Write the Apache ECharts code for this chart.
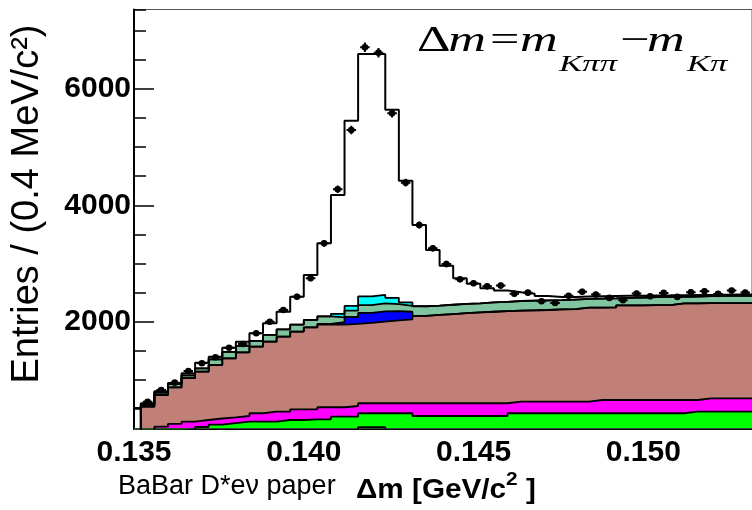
<!DOCTYPE html>
<html>
<head>
  <meta charset="utf-8">
  <title>BaBar D* delta m</title>
  <script src="https://cdn.jsdelivr.net/npm/echarts@6/dist/echarts.min.js"></script>
  <style>
    html, body { margin: 0; padding: 0; background: #fff; }
    #chart { width: 752px; height: 510px; }
  </style>
</head>
<body>
  <div id="chart"></div>

  <script>
    // binning: 0.4 MeV bins, first full bin starts at 0.1352 (0.135-0.1352 is a partial sliver)
    const binStart = 0.1352;
    const binWidth = 0.0004;
    const nBins = 45;
    const xMin = 0.135;
    const partialTotal = 516;

    // data points (entries per bin)
    const dataCounts = [624, 825, 951, 1152, 1284, 1387, 1552, 1616, 1800, 1999,
      2200, 2429, 2745, 3347, 4275, 5295, 6716, 6624, 5582, 4389,
      3662, 3261, 2990, 2728, 2659, 2607, 2620, 2480, 2498, 2350,
      2322, 2445, 2515, 2466, 2408, 2367, 2483, 2436, 2494, 2425,
      2505, 2522, 2477, 2534, 2500];

    // total fit histogram
    const totalFit = [596, 805, 945, 1112, 1294, 1398, 1552, 1655, 1800, 1972,
      2171, 2429, 2802, 3347, 4177, 5455, 6601, 6601, 5643, 4420,
      3662, 3232, 2960, 2745, 2650, 2573, 2535, 2505, 2478, 2440,
      2425, 2425, 2432, 2436, 2440, 2443, 2446, 2450, 2452, 2455,
      2458, 2460, 2463, 2466, 2468];

    // background components, bottom to top of the stack
    const blackBkg = [30, 30, 30, 30, 30, 30, 30, 30, 30, 30,
      30, 30, 30, 30, 30, 30, 188, 188, 30, 30,
      30, 30, 30, 30, 30, 30, 30, 30, 30, 30,
      30, 30, 30, 30, 30, 30, 30, 30, 30, 30,
      30, 30, 30, 30, 30];
    const greenBkg = [10, 50, 90, 120, 159, 200, 225, 250, 250, 250,
      279, 279, 291, 291, 336, 336, 237, 237, 395, 395,
      348, 348, 348, 348, 348, 348, 348, 395, 395, 395,
      395, 395, 395, 395, 395, 395, 395, 395, 395, 395,
      422, 422, 422, 422, 422];
    const magentaBkg = [0, 114, 121, 130, 120, 105, 100, 98, 145, 172,
      143, 184, 172, 207, 162, 184, 172, 172, 172, 172,
      219, 219, 219, 219, 219, 219, 219, 199, 199, 199,
      199, 199, 199, 228, 228, 228, 228, 228, 228, 228,
      201, 230, 230, 230, 230];
    const brownBkg = [498, 545, 629, 750, 831, 920, 1015, 1092, 1145, 1203,
      1289, 1337, 1407, 1422, 1422, 1410, 1383, 1403, 1423, 1443,
      1503, 1518, 1533, 1548, 1563, 1573, 1583, 1566, 1571, 1576,
      1586, 1591, 1616, 1587, 1592, 1627, 1627, 1632, 1632, 1662,
      1662, 1638, 1638, 1638, 1638];
    const blueBkg = [0, 0, 0, 0, 0, 0, 0, 0, 0, 0,
      0, 0, 0, 10, 40, 120, 170, 175, 160, 130,
      0, 0, 0, 0, 0, 0, 0, 0, 0, 0,
      0, 0, 0, 0, 0, 0, 0, 0, 0, 0,
      0, 0, 0, 0, 0];
    const tealBkg = [30, 40, 58, 45, 58, 98, 110, 115, 100, 116,
      125, 120, 128, 132, 85, 110, 135, 140, 120, 100,
      165, 160, 160, 160, 155, 160, 160, 165, 165, 165,
      160, 165, 150, 155, 155, 130, 135, 135, 140, 110,
      115, 120, 125, 125, 125];
    const cyanBkg = [0, 0, 0, 0, 0, 0, 0, 0, 0, 0,
      0, 0, 0, 0, 60, 80, 150, 145, 110, 60,
      0, 0, 0, 0, 0, 0, 0, 0, 0, 0,
      0, 0, 0, 0, 0, 0, 0, 0, 0, 0,
      0, 0, 0, 0, 0];

    const layers = [
      { name: 'other', vals: blackBkg, color: '#000000' },
      { name: 'green', vals: greenBkg, color: '#00ff00' },
      { name: 'magenta', vals: magentaBkg, color: '#ff00ff' },
      { name: 'combinatoric', vals: brownBkg, color: '#c08078' },
      { name: 'blue', vals: blueBkg, color: '#0000ff' },
      { name: 'teal', vals: tealBkg, color: '#80c4a0' },
      { name: 'cyan', vals: cyanBkg, color: '#00ffff' }
    ];

    const edges = [];
    for (let k = 0; k <= nBins; k++) edges.push(+(binStart + k * binWidth).toFixed(4));
    const xMax = edges[nBins];

    // histogram as step line: left edges, plus closing right edge
    function stepData(vals, first) {
      const out = [[xMin, first]];
      vals.forEach((v, k) => out.push([edges[k], v]));
      out.push([edges[nBins], vals[nBins - 1]]);
      return out;
    }

    // stack like THStack: cumulative sums, drawn from the top layer down
    let running = new Array(nBins).fill(0);
    const cumulative = layers.map(l => {
      running = running.map((s, k) => s + l.vals[k]);
      return { name: l.name, color: l.color, vals: running.slice() };
    });

    const stackSeries = cumulative.slice().reverse().map(c => ({
      name: c.name,
      type: 'line',
      step: 'end',
      symbol: 'none',
      data: stepData(c.vals, 0),
      lineStyle: { color: '#000', width: 1.8 },
      areaStyle: { color: c.color, opacity: 1, origin: 'start' },
      silent: true
    }));

    const points = dataCounts.map((v, k) => [+(edges[k] + binWidth / 2).toFixed(5), v]);

    const chart = echarts.init(document.getElementById('chart'));

    const labelFont = { fontFamily: 'Liberation Sans', fontWeight: 'bold', fontSize: 30, color: '#000' };
    const serif = '"Liberation Serif"';

    const option = {
      animation: false,
      backgroundColor: '#fff',
      grid: { left: 134, top: 9.5, width: 635, height: 419, show: true, borderColor: '#555', borderWidth: 1 },
      xAxis: [
        {
          type: 'value', position: 'bottom', min: xMin, max: xMax, interval: 0.005,
          axisLine: { show: true, onZero: false, lineStyle: { color: '#000', width: 2 } },
          axisTick: { inside: true, length: 14, lineStyle: { color: '#000', width: 1.5 } },
          axisLabel: Object.assign({ margin: 9, showMaxLabel: false, formatter: v => v.toFixed(3) }, labelFont),
          splitLine: { show: false }
        },
        {
          type: 'value', position: 'bottom', min: xMin, max: xMax, interval: 0.0025,
          axisLine: { show: false, onZero: false },
          axisTick: { inside: true, length: 6, lineStyle: { color: '#000', width: 1.5 } },
          axisLabel: { show: false },
          splitLine: { show: false }
        }
      ],
      yAxis: [
        {
          type: 'value', position: 'left', min: 163, max: 7366, splitNumber: 4, minInterval: 2000, maxInterval: 2000,
          axisLine: { show: true, lineStyle: { color: '#000', width: 2 } },
          axisTick: { inside: true, length: 20, lineStyle: { color: '#000', width: 1.5 } },
          axisLabel: Object.assign({ margin: 3, showMinLabel: false, showMaxLabel: false, formatter: v => String(v) }, labelFont),
          splitLine: { show: false }
        },
        {
          type: 'value', position: 'left', min: 163, max: 7366, splitNumber: 14, minInterval: 500, maxInterval: 500,
          axisLine: { show: false },
          axisTick: { inside: true, length: 12, lineStyle: { color: '#000', width: 1.5 } },
          axisLabel: { show: false },
          splitLine: { show: false }
        }
      ],
      series: stackSeries.concat([
        {
          name: 'total',
          type: 'line',
          step: 'end',
          symbol: 'none',
          data: stepData(totalFit, partialTotal),
          lineStyle: { color: '#000', width: 2 },
          z: 3,
          silent: true
        },
        {
          name: 'data',
          type: 'custom',
          clip: true,
          z: 4,
          data: points,
          renderItem: function (params, api) {
            const x = api.value(0), y = api.value(1), e = Math.sqrt(y);
            const c = api.coord([x, y]);
            const top = api.coord([x, y + e]);
            const bot = api.coord([x, y - e]);
            const l = api.coord([x - 0.00014, y]);
            const r = api.coord([x + 0.00014, y]);
            const st = { stroke: '#000', lineWidth: 2 };
            return {
              type: 'group',
              children: [
                { type: 'line', shape: { x1: c[0], y1: top[1], x2: c[0], y2: bot[1] }, style: st },
                { type: 'line', shape: { x1: l[0], y1: c[1], x2: r[0], y2: c[1] }, style: st },
                { type: 'circle', shape: { cx: c[0], cy: c[1], r: 3.3 }, style: { fill: '#000' } }
              ]
            };
          }
        }
      ]),
      graphic: [
        {
          type: 'text', x: 28, y: 204, rotation: Math.PI / 2,
          style: { text: 'Entries / (0.4 MeV/c²)', font: '38px "Liberation Sans"', fill: '#000',
            align: 'center', verticalAlign: 'middle', textAlign: 'center', textVerticalAlign: 'middle' }
        },
        {
          type: 'text', x: 118, y: 487,
          style: { text: 'BaBar D*eν paper', font: '27px "Liberation Sans"', fill: '#000',
            align: 'left', verticalAlign: 'middle', textAlign: 'left', textVerticalAlign: 'middle' }
        },
        {
          type: 'text', x: 356, y: 487, scaleX: 1.1,
          style: {
            text: '{m|Δm [GeV/c}{s|2}{m| ]}',
            fill: '#000', align: 'left', verticalAlign: 'middle', textAlign: 'left', textVerticalAlign: 'middle',
            rich: {
              m: { fontFamily: 'Liberation Sans', fontWeight: 'bold', fontSize: 27, lineHeight: 34, verticalAlign: 'bottom' },
              s: { fontFamily: 'Liberation Sans', fontWeight: 'bold', fontSize: 19, lineHeight: 24, verticalAlign: 'top' }
            }
          }
        },
        {
          type: 'group', x: 417, y: 0, scaleX: 1.45,
          children: [
            { type: 'text', x: 0, y: 42, style: { text: 'Δ', font: '36px ' + serif, fill: '#000', verticalAlign: 'middle', textVerticalAlign: 'middle' } },
            { type: 'text', x: 21.5, y: 42, style: { text: 'm', font: 'italic 36px ' + serif, fill: '#000', verticalAlign: 'middle', textVerticalAlign: 'middle' } },
            { type: 'text', x: 50.3, y: 42, style: { text: '=', font: '36px ' + serif, fill: '#000', verticalAlign: 'middle', textVerticalAlign: 'middle' } },
            { type: 'text', x: 71, y: 42, style: { text: 'm', font: 'italic 36px ' + serif, fill: '#000', verticalAlign: 'middle', textVerticalAlign: 'middle' } },
            { type: 'text', x: 98, y: 65, style: { text: 'Kππ', font: 'italic 24px ' + serif, fill: '#000', verticalAlign: 'middle', textVerticalAlign: 'middle' } },
            { type: 'text', x: 140, y: 42, style: { text: '−', font: '36px ' + serif, fill: '#000', verticalAlign: 'middle', textVerticalAlign: 'middle' } },
            { type: 'text', x: 158.6, y: 42, style: { text: 'm', font: 'italic 36px ' + serif, fill: '#000', verticalAlign: 'middle', textVerticalAlign: 'middle' } },
            { type: 'text', x: 186, y: 65, style: { text: 'Kπ', font: 'italic 24px ' + serif, fill: '#000', verticalAlign: 'middle', textVerticalAlign: 'middle' } }
          ]
        }
      ]
    };

    chart.setOption(option);
  </script>
</body>
</html>
